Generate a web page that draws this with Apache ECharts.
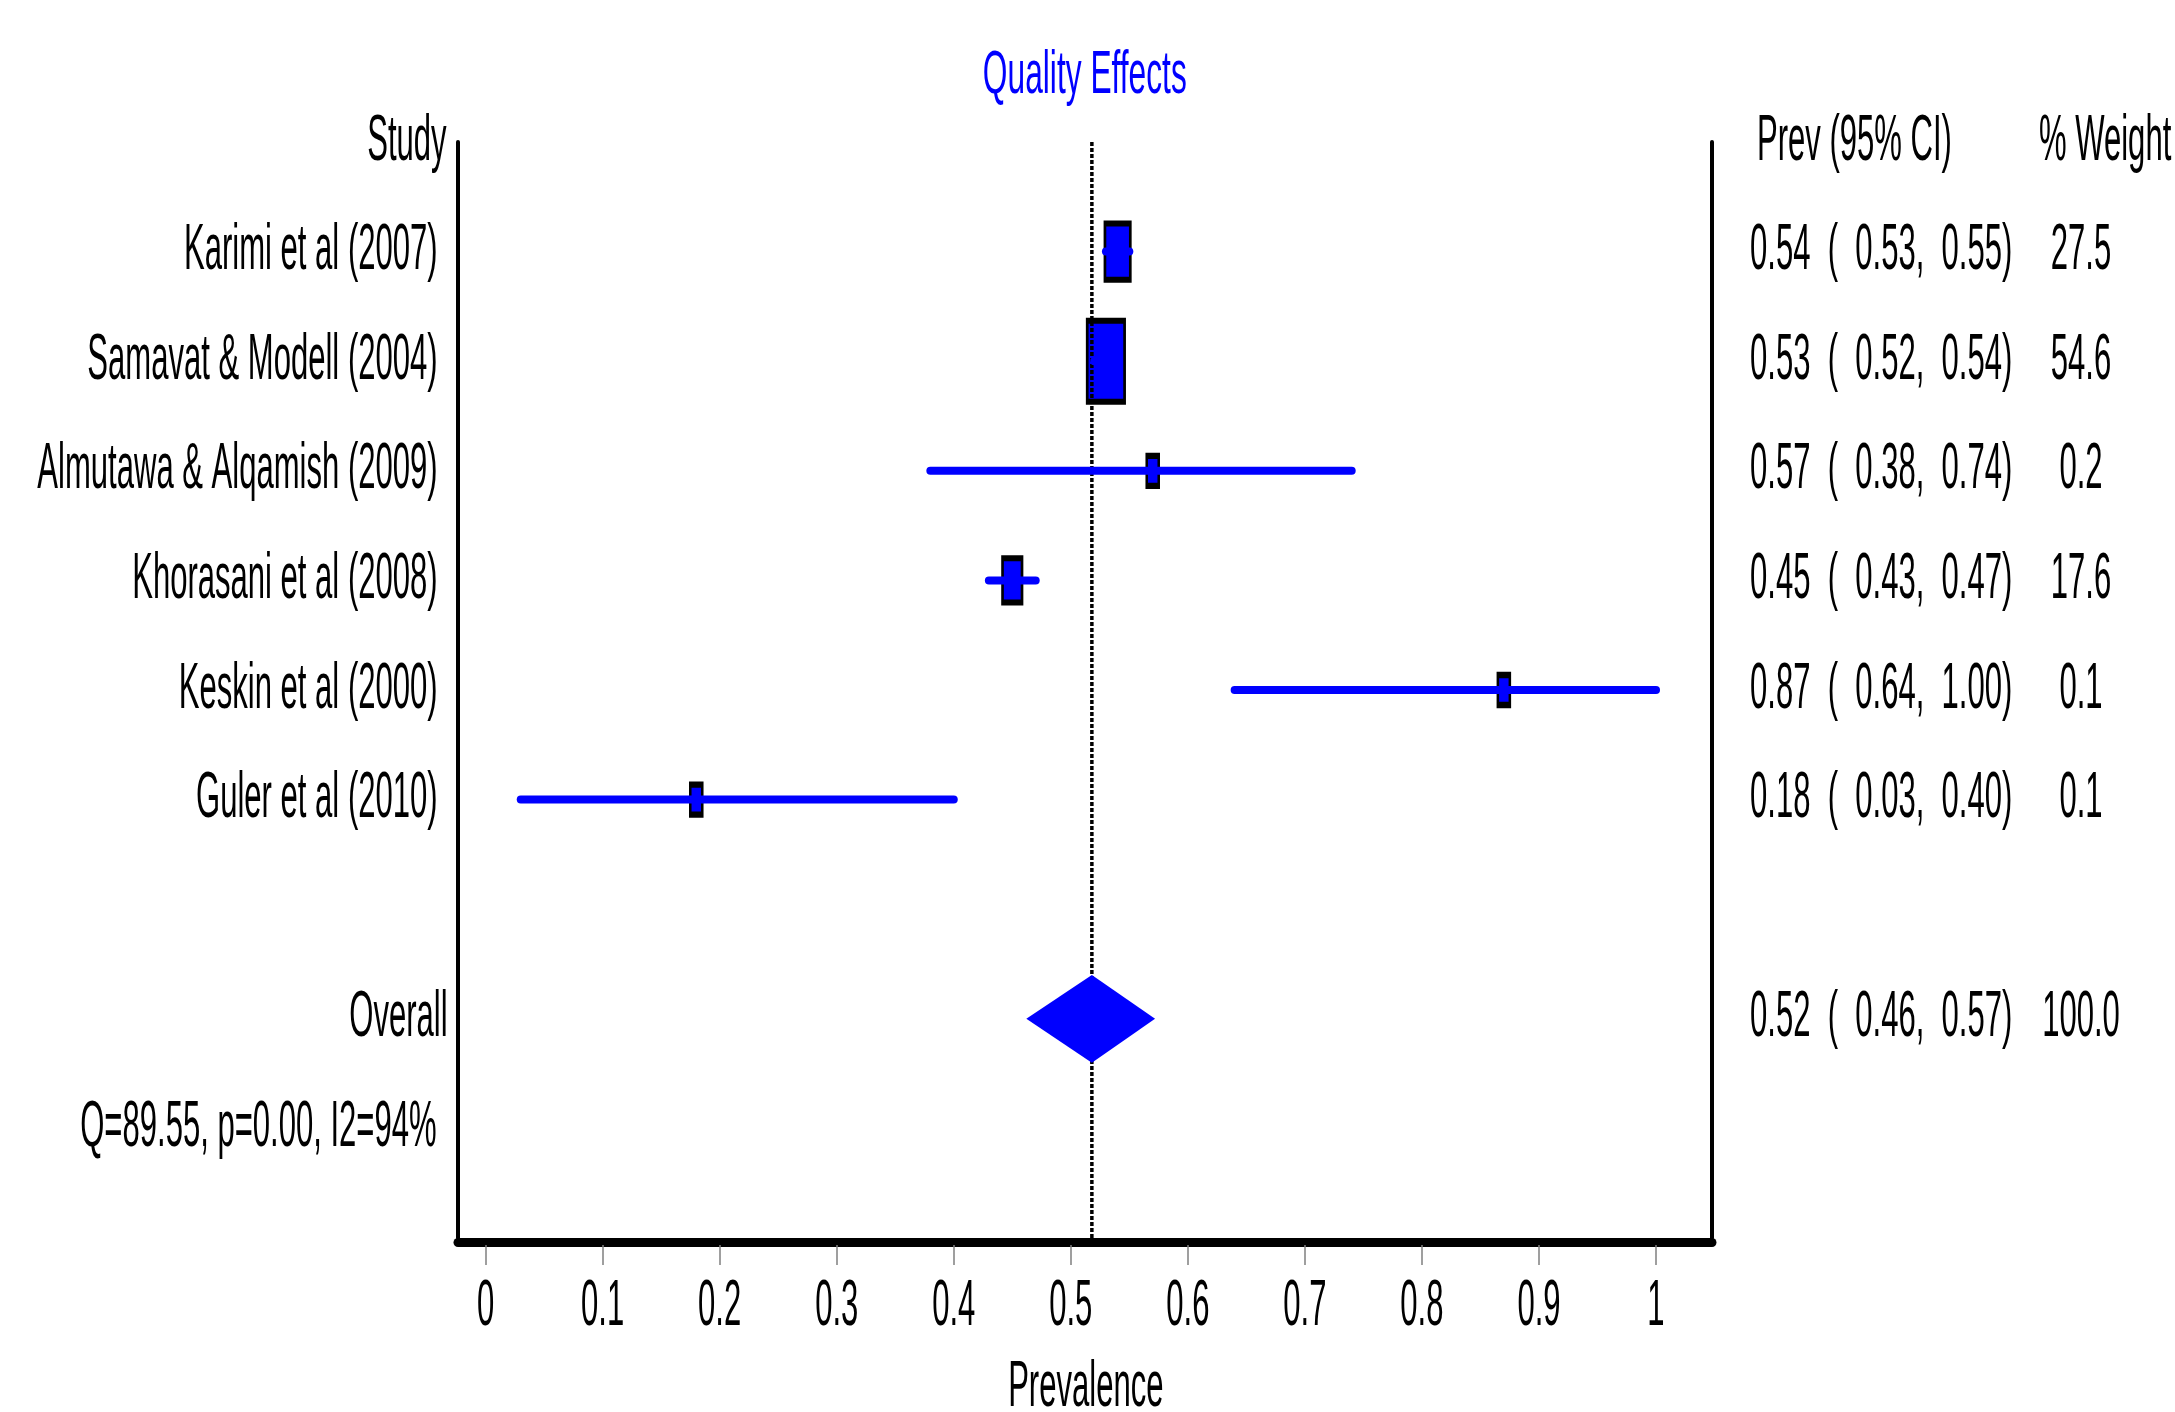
<!DOCTYPE html>
<html>
<head>
<meta charset="utf-8">
<title>Quality Effects forest plot</title>
<script src="https://cdn.jsdelivr.net/npm/echarts@6/dist/echarts.min.js"></script>
<style>
  html, body { margin: 0; padding: 0; background: #fff; }
  #chart { width: 2175px; height: 1412px; }
</style>
</head>
<body>
<div id="chart"></div>
<script>
// study data
const studies = [
  "Karimi et al (2007)",
  "Samavat & Modell (2004)",
  "Almutawa & Alqamish (2009)",
  "Khorasani et al (2008)",
  "Keskin et al (2000)",
  "Guler et al (2010)",
];
const prevalence = [0.54, 0.53, 0.57, 0.45, 0.87, 0.18];
const ciLower = [0.53, 0.52, 0.38, 0.43, 0.64, 0.03];
const ciUpper = [0.55, 0.54, 0.74, 0.47, 1.0, 0.4];
const weights = [27.5, 54.6, 0.2, 17.6, 0.1, 0.1];

// pooled estimate: prevalence, lower, upper
const overallEstimate = [0.518, 0.462, 0.572];
const overallWeight = 100.0;
const heterogeneity = "Q=89.55, p=0.00, I2=94%";

const columnHeaders = ["Study", "Prev (95% CI)", "% Weight"];
const tickLabels = ["0", "0.1", "0.2", "0.3", "0.4", "0.5", "0.6", "0.7", "0.8", "0.9", "1"];

const BLUE = "#0000ff";
const OVERALL_ROW = 8;
const STAT_ROW = 9;

const fmtCI = (p, lo, hi) =>
  `${p.toFixed(2)}  (  ${lo.toFixed(2)},  ${hi.toFixed(2)})`;

// text items (condensed look via scaleX)
const labels = [];
const add = (text, anchor, row, dx, align, extra) =>
  labels.push(Object.assign({ text, anchor, row, dx, align }, extra || {}));

add("Quality Effects", 0.5, -0.6, 14, "center", { color: BLUE, size: 61, sx: 0.52 });
add(columnHeaders[0], 0, 0, -39, "right");
add(columnHeaders[1], 1, 0, 101, "left");
add(columnHeaders[2], 1, 0, 383, "left");
studies.forEach((s, i) => {
  add(s, 0, i + 1, -48, "right");
  add(fmtCI(prevalence[i], ciLower[i], ciUpper[i]), 1, i + 1, 94, "left");
  add(weights[i].toFixed(1), 1, i + 1, 425, "center");
});
add("Overall", 0, OVERALL_ROW, -38, "right");
add(fmtCI(overallEstimate[0], overallEstimate[1], overallEstimate[2]), 1, OVERALL_ROW, 94, "left");
add(overallWeight.toFixed(1), 1, OVERALL_ROW, 425, "center");
add(heterogeneity, 0, STAT_ROW, -49, "right");
tickLabels.forEach((t) => add(t, parseFloat(t), 10, 0, "center", { dy: 69 }));
add("Prevalence", 0.5, 10, 15, "center", { dy: 150 });

const chart = echarts.init(document.getElementById("chart"), null, { renderer: "canvas" });

const option = {
  animation: false,
  backgroundColor: "#fff",
  grid: [
    // frame
    { left: 458, width: 1254, top: 142, height: 1096 },
    // data area, x from 0 to 1
    { left: 485.6, width: 1170.4, top: 142, height: 1096 },
  ],
  xAxis: [
    {
      gridIndex: 0, type: "value", min: 0, max: 1, offset: 4,
      axisLine: { onZero: false, lineStyle: { color: "#000", width: 9 } },
      axisTick: { show: false }, axisLabel: { show: false }, splitLine: { show: false },
    },
    {
      gridIndex: 1, type: "value", min: 0, max: 1, interval: 0.1, offset: 7,
      position: "bottom",
      axisLine: { show: false, onZero: false },
      axisTick: { show: true, length: 20, lineStyle: { color: "#808080", width: 1.5 } },
      axisLabel: { show: false }, splitLine: { show: false },
    },
  ],
  yAxis: [
    {
      gridIndex: 0, type: "value", min: 0, max: 1, position: "left",
      axisLine: { show: true, onZero: false, lineStyle: { color: "#000", width: 4 } },
      axisTick: { show: false }, axisLabel: { show: false }, splitLine: { show: false },
    },
    {
      gridIndex: 0, type: "value", min: 0, max: 1, position: "right",
      axisLine: { show: true, onZero: false, lineStyle: { color: "#000", width: 4 } },
      axisTick: { show: false }, axisLabel: { show: false }, splitLine: { show: false },
    },
    {
      gridIndex: 1, type: "value", min: 0, max: 10, inverse: true, show: false,
      axisLine: { onZero: false },
    },
  ],
  series: [
    {
      // weighted boxes
      type: "scatter",
      xAxisIndex: 1, yAxisIndex: 2,
      silent: true, z: 2,
      symbol: "rect",
      symbolSize: (v) => [
        Math.max(5.6 * Math.sqrt(v[2]), 16) - 4,
        Math.max(11.5 * Math.sqrt(v[2]), 34) - 4,
      ],
      itemStyle: { color: BLUE, borderColor: "#000", borderWidth: 4, opacity: 1 },
      data: prevalence.map((p, i) => [p, i + 1, weights[i]]),
    },
    {
      // dashed line at pooled estimate
      type: "line",
      xAxisIndex: 1, yAxisIndex: 2,
      silent: true, z: 3, showSymbol: false,
      lineStyle: { color: "#000", width: 3.5, type: [4, 2] },
      data: [[overallEstimate[0], 0], [overallEstimate[0], 10]],
    },
    {
      // confidence intervals
      type: "custom",
      xAxisIndex: 1, yAxisIndex: 2,
      silent: true, z: 4,
      encode: { x: [0, 1], y: 2 },
      data: studies.map((_, i) => [ciLower[i], ciUpper[i], i + 1]),
      renderItem: (params, api) => {
        const a = api.coord([api.value(0), api.value(2)]);
        const b = api.coord([api.value(1), api.value(2)]);
        return {
          type: "line",
          shape: { x1: a[0], y1: a[1], x2: b[0], y2: b[1] },
          style: { stroke: BLUE, lineWidth: 8, lineCap: "round" },
        };
      },
    },
    {
      // pooled diamond
      type: "custom",
      xAxisIndex: 1, yAxisIndex: 2,
      silent: true, z: 5,
      encode: { x: [0, 1, 2], y: 3 },
      data: [[overallEstimate[1], overallEstimate[0], overallEstimate[2], OVERALL_ROW]],
      renderItem: (params, api) => {
        const row = api.value(3);
        const pts = [
          api.coord([api.value(0), row]),
          api.coord([api.value(1), row - 0.4]),
          api.coord([api.value(2), row]),
          api.coord([api.value(1), row + 0.4]),
        ];
        return { type: "polygon", shape: { points: pts }, style: { fill: BLUE } };
      },
    },
    {
      // all text
      type: "custom",
      xAxisIndex: 1, yAxisIndex: 2,
      silent: true, z: 6,
      encode: { x: 0, y: 1 },
      data: labels.map((l) => [l.anchor, l.row]),
      renderItem: (params, api) => {
        const l = labels[params.dataIndex];
        const p = api.coord([l.anchor, l.row]);
        return {
          type: "text",
          x: p[0] + l.dx,
          y: p[1] + (l.dy || 0),
          scaleX: l.sx || 0.485,
          style: {
            text: l.text,
            fill: l.color || "#000",
            font: `${l.size || 64}px "Liberation Sans"`,
            align: l.align,
            verticalAlign: "middle",
          },
        };
      },
    },
  ],
};

chart.setOption(option);
</script>
</body>
</html>
